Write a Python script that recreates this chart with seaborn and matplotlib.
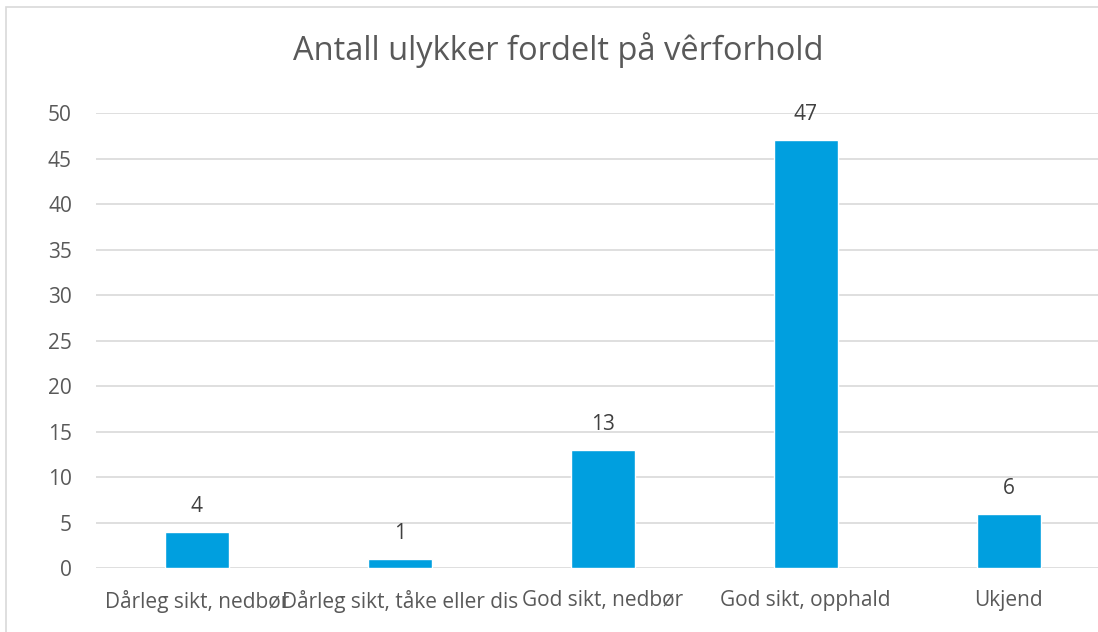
import matplotlib
matplotlib.use("Agg")
import matplotlib.pyplot as plt
import seaborn as sns
from matplotlib.patches import Rectangle

# data
kategoriar = ["Dårleg sikt, nedbør", "Dårleg sikt, tåke eller dis",
              "God sikt, nedbør", "God sikt, opphald", "Ukjend"]
antal = [4, 1, 13, 47, 6]

sns.set_style("white")
plt.rcParams["font.family"] = ["Open Sans", "DejaVu Sans"]

fig = plt.figure(figsize=(10.98, 6.32), dpi=100)
ax = fig.add_axes([0.087, 0.101, 0.924, 0.720])

sns.barplot(x=kategoriar, y=antal, color="#009FDF", width=0.315,
            saturation=1, ax=ax, zorder=3)

ax.set_ylim(0, 50)
ax.set_yticks(range(0, 51, 5))
ax.grid(axis="y", color="#D9D9D9", linewidth=1.2, zorder=0)
for s in ax.spines.values():
    s.set_visible(False)
ax.tick_params(axis="both", length=0, labelsize=15, colors="#595959")
ax.tick_params(axis="x", pad=16)
ax.tick_params(axis="y", pad=17)

# verdiar over stolpane
for i, v in enumerate(antal):
    ax.text(i, v + 2.8, str(v), ha="center", va="center",
            fontsize=15, color="#404040")

fig.text(0.508, 0.92, "Antall ulykker fordelt på vêrforhold",
         ha="center", va="center", fontsize=23.5, color="#595959")

# ramme rundt diagrammet
fig.patches.append(Rectangle((6 / 1098, -0.1), 1.2, 1 - 7 / 632 + 0.1,
                             transform=fig.transFigure, fill=False,
                             edgecolor="#D9D9D9", linewidth=1.2))

fig.savefig("out.png", dpi=100)
